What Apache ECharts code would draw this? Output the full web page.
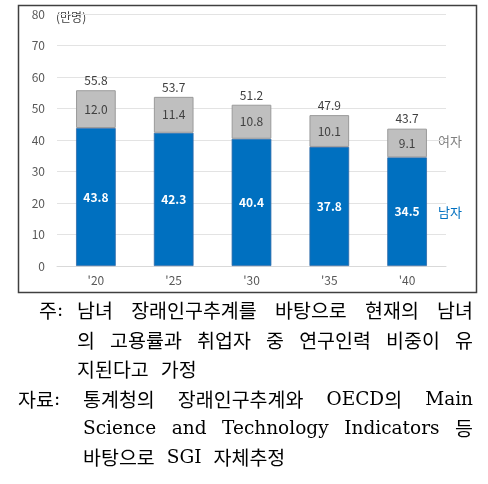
<!DOCTYPE html>
<html><head><meta charset="utf-8">
<script src="https://cdn.jsdelivr.net/npm/echarts@6/dist/echarts.min.js"></script>
<style>html,body{margin:0;padding:0;background:#fff}#c{width:488px;height:484px}</style>
</head><body><div id="c"></div>
<script>
var categories = ["'20", "'25", "'30", "'35", "'40"];
var male = [43.8, 42.3, 40.4, 37.8, 34.5];
var female = [12.0, 11.4, 10.8, 10.1, 9.1];
var totals = [55.8, 53.7, 51.2, 47.9, 43.7];
var unitLabel = '(만명)';
var femaleName = '여자';
var maleName = '남자';
var noteLines = [
  {lead: '주:', text: '남녀 장래인구추계를 바탕으로 현재의 남녀', justify: true},
  {lead: '', text: '의 고용률과 취업자 중 연구인력 비중이 유', justify: true},
  {lead: '', text: '지된다고 가정', justify: false},
  {lead: '자료:', text: '통계청의 장래인구추계와 OECD의 Main', justify: true},
  {lead: '', text: 'Science and Technology Indicators 등', justify: true},
  {lead: '', text: '바탕으로 SGI 자체추정', justify: false}
];

var chart = echarts.init(document.getElementById('c'), null, {renderer: 'canvas'});
var sans = '"Noto Sans CJK KR", "Open Sans", sans-serif';
var hanFont = '19.5px "Noto Sans CJK KR", sans-serif';
var latFont = '18.5px "DejaVu Serif", serif';

var mctx = document.createElement('canvas').getContext('2d');
function segs(word) {
  var out = word.match(/[\uAC00-\uD7A3]+|[^\uAC00-\uD7A3]+/g) || [];
  return out.map(function (s) {
    var f = /[\uAC00-\uD7A3]/.test(s) ? hanFont : latFont;
    mctx.font = f;
    return {s: s, f: f, w: mctx.measureText(s).width};
  });
}
function wordWidth(sg) { return sg.reduce(function (a, b) { return a + b.w; }, 0); }

var graphics = [
  {type: 'rect', shape: {x: 18.5, y: 5.5, width: 458, height: 287}, style: {fill: 'none', stroke: '#404040', lineWidth: 1.5}, silent: true},
  {type: 'text', x: 56, y: 17, style: {text: unitLabel, font: '12px ' + sans, fill: '#404040', verticalAlign: 'middle'}},
  {type: 'text', x: 438, y: 141, style: {text: femaleName, font: '13px ' + sans, fill: '#7f7f7f', verticalAlign: 'middle'}},
  {type: 'text', x: 438, y: 212, style: {text: maleName, font: '13px ' + sans, fill: '#0070C0', verticalAlign: 'middle'}}
];
function putWord(sg, x, y) {
  sg.forEach(function (p) {
    graphics.push({type: 'text', x: x, y: y, style: {text: p.s, font: p.f, fill: '#000', verticalAlign: 'middle'}});
    x += p.w;
  });
}

var lineYs = [311, 341, 370, 400, 429, 458];
noteLines.forEach(function (ln, i) {
  var isSrc = i >= 3;
  var x0 = isSrc ? 83 : 77;
  var x1 = 473;
  var y = lineYs[i];
  if (ln.lead) putWord(segs(ln.lead), isSrc ? 18 : 39, y);
  var words = ln.text.split(' ').map(segs);
  var widths = words.map(wordWidth);
  var sum = widths.reduce(function (a, b) { return a + b; }, 0);
  var gap = ln.justify && words.length > 1 ? (x1 - x0 - sum) / (words.length - 1) : 12;
  var x = x0;
  words.forEach(function (sg, k) {
    putWord(sg, x, y);
    x += widths[k] + gap;
  });
});

function fmt(p) { return Number(p.value).toFixed(1); }

chart.setOption({
  animation: false,
  backgroundColor: '#fff',
  grid: {left: 57, right: 42, top: 14, bottom: 218, containLabel: false},
  xAxis: {
    type: 'category', data: categories,
    axisLine: {show: true, lineStyle: {color: '#D9D9D9'}},
    axisTick: {show: false},
    axisLabel: {color: '#595959', fontSize: 12, margin: 8, fontFamily: sans}
  },
  yAxis: {
    type: 'value', min: 0, max: 80, interval: 10,
    axisLine: {show: false}, axisTick: {show: false},
    splitLine: {lineStyle: {color: '#E3E3E3'}},
    axisLabel: {color: '#595959', fontSize: 12, margin: 12, fontFamily: sans}
  },
  series: [
    {
      name: maleName, type: 'bar', stack: 't', data: male, barWidth: '51%',
      itemStyle: {color: '#0070C0', borderColor: '#2f6aa8', borderWidth: 0.8},
      label: {show: true, position: 'inside', color: '#fff', fontWeight: 'bold', fontSize: 12, fontFamily: sans, formatter: fmt}
    },
    {
      name: femaleName, type: 'bar', stack: 't', data: female, barWidth: '51%',
      itemStyle: {color: '#BFBFBF', borderColor: '#9a9a9a', borderWidth: 1},
      label: {show: true, position: 'inside', color: '#404040', fontSize: 12, fontFamily: sans, formatter: fmt}
    },
    {
      name: 'total', type: 'line', data: totals, symbol: 'circle', symbolSize: 1, showSymbol: true,
      itemStyle: {color: 'rgba(0,0,0,0)'},
      lineStyle: {width: 0, opacity: 0}, silent: true, z: 5,
      label: {show: true, position: 'top', distance: 3, color: '#404040', fontSize: 12, fontFamily: sans, formatter: fmt}
    }
  ],
  graphic: graphics
});
</script>
</body></html>
